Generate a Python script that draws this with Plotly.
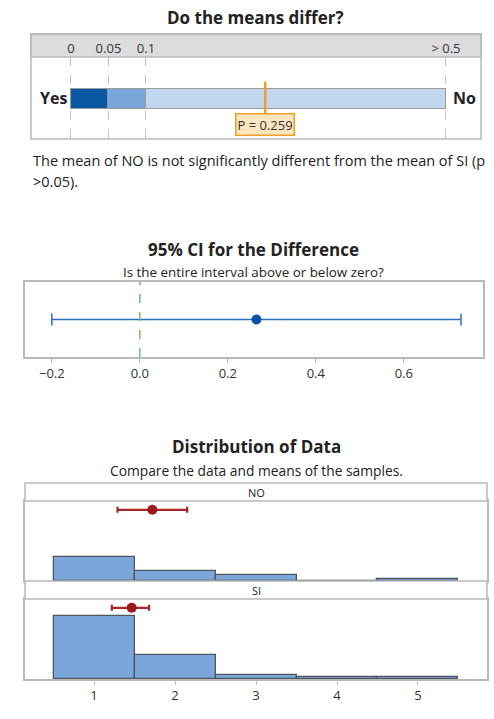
import plotly.graph_objects as go

# ---- data ----
p_value = 0.259
p_thresholds = [0, 0.05, 0.1, 0.5]
p_tick_labels = ["0", "0.05", "0.1", "> 0.5"]

diff_estimate = 0.265
diff_ci = [-0.2, 0.73]
diff_ticks = [-0.2, 0.0, 0.2, 0.4, 0.6]

groups = ["NO", "SI"]
bins = [1, 2, 3, 4, 5]
counts_no = [12, 5, 3, 0, 1]
counts_si = [32, 12, 2, 1, 1]
group_means = [1.72, 1.465]
group_ci_low = [1.29, 1.22]
group_ci_high = [2.15, 1.68]

W, H = 494, 719
FONT = "Open Sans"
TXT = "#222222"
BORDER = "#b9b9b9"


def fx(px):
    return px / W


def fy(py):
    return 1 - py / H


def p_scale(p):
    # piecewise scale: 0..0.1 stretched, 0.1..0.5 compressed
    if p <= 0.1:
        return p / 0.1
    return 1 + (min(p, 0.5) - 0.1) / 0.4 * 4


fig = go.Figure()

# ---- p-value bar ----
seg_colors = ["#0b57a4", "#7aa7da", "#c2d6ee"]
for i in range(3):
    a, b = p_thresholds[i], p_thresholds[i + 1]
    fig.add_trace(go.Bar(
        orientation="h", y=[0.488], base=[p_scale(a)], x=[p_scale(b) - p_scale(a)],
        width=0.244, marker=dict(color=seg_colors[i], line=dict(color="#9a9a9a", width=1)),
        xaxis="x", yaxis="y", showlegend=False, hoverinfo="skip"))
fig.add_trace(go.Scatter(
    x=[p_scale(p_value)] * 2, y=[0.70, 0.28], mode="lines",
    line=dict(color="#f0a028", width=2.5), xaxis="x", yaxis="y",
    showlegend=False, hoverinfo="skip"))

# ---- CI for the difference ----
fig.add_trace(go.Scatter(
    x=[diff_estimate], y=[0.5], mode="markers",
    marker=dict(color="#0b52a6", size=10),
    error_x=dict(type="data", symmetric=False,
                 array=[diff_ci[1] - diff_estimate],
                 arrayminus=[diff_estimate - diff_ci[0]],
                 color="#2f6fc0", thickness=1.5, width=6),
    xaxis="x2", yaxis="y2", showlegend=False))
fig.add_trace(go.Scatter(
    x=[0, 0], y=[0, 1], mode="lines", line=dict(color="#6cc070", width=1.5, dash="dash"),
    xaxis="x2", yaxis="y2", showlegend=False, hoverinfo="skip"))

# ---- distributions ----
y_top = 1.27 * max(max(counts_no), max(counts_si))
for k, counts in enumerate([counts_no, counts_si]):
    xa, ya = ("x3", "y3") if k == 0 else ("x4", "y4")
    fig.add_trace(go.Bar(
        x=bins, y=counts, width=1,
        marker=dict(color="#7ba6d9", line=dict(color="#50565e", width=1.3)),
        xaxis=xa, yaxis=ya, showlegend=False))
    fig.add_trace(go.Scatter(
        x=[group_means[k]], y=[0.89 * y_top], mode="markers",
        marker=dict(color="#9b1b1b", size=10),
        error_x=dict(type="data", symmetric=False,
                     array=[group_ci_high[k] - group_means[k]],
                     arrayminus=[group_means[k] - group_ci_low[k]],
                     color="#a52626", thickness=2.2, width=3),
        xaxis=xa, yaxis=ya, showlegend=False))

axis_box = dict(showline=True, mirror=True, linecolor=BORDER, linewidth=1.5,
                zeroline=False, showgrid=False)

fig.update_layout(
    width=W, height=H, margin=dict(l=0, r=0, t=0, b=0),
    paper_bgcolor="white", plot_bgcolor="white",
    font=dict(family=FONT, color=TXT, size=12),
    barmode="overlay", bargap=0,
    xaxis=dict(domain=[fx(31), fx(481)], range=[-0.533, 5.467], side="top",
               tickvals=[p_scale(v) for v in p_thresholds], ticktext=p_tick_labels,
               showgrid=True, gridcolor="#c4c4c4", griddash="dash", gridwidth=1,
               zeroline=False, showline=False, ticks="", tickfont=dict(size=13, color="#333"),
               fixedrange=True),
    yaxis=dict(domain=[fy(139), fy(57)], range=[0, 1], visible=False, fixedrange=True),
    xaxis2=dict(domain=[fx(25), fx(483)], range=[-0.261, 0.78], tickvals=diff_ticks,
                tickformat=".1f", ticks="outside", ticklen=4, tickcolor=BORDER,
                tickfont=dict(size=13, color="#333"), anchor="y2", **axis_box),
    yaxis2=dict(domain=[fy(357), fy(282)], range=[0, 1], showticklabels=False,
                ticks="", anchor="x2", **axis_box),
    xaxis3=dict(domain=[fx(25), fx(487)], range=[0.148, 5.852], showticklabels=False,
                ticks="", anchor="y3", **axis_box),
    yaxis3=dict(domain=[fy(581), fy(501)], range=[0, y_top], showticklabels=False,
                ticks="", anchor="x3", **axis_box),
    xaxis4=dict(domain=[fx(25), fx(487)], range=[0.148, 5.852], tickvals=bins,
                ticks="outside", ticklen=4, tickcolor=BORDER,
                tickfont=dict(size=13, color="#333"), anchor="y4", **axis_box),
    yaxis4=dict(domain=[fy(679), fy(599)], range=[0, y_top], showticklabels=False,
                ticks="", anchor="x4", **axis_box),
)

shapes = [
    # header band and frame of the p-value panel
    dict(type="rect", xref="paper", yref="paper", x0=fx(31), x1=fx(481), y0=fy(57), y1=fy(34),
         fillcolor="#dcdcdc", line=dict(color=BORDER, width=1.5), layer="below"),
    dict(type="rect", xref="paper", yref="paper", x0=fx(31), x1=fx(481), y0=fy(139), y1=fy(34),
         fillcolor="rgba(0,0,0,0)", line=dict(color=BORDER, width=1.5)),
    # facet strips
    dict(type="rect", xref="paper", yref="paper", x0=fx(25), x1=fx(487), y0=fy(501), y1=fy(483),
         fillcolor="white", line=dict(color=BORDER, width=1.5)),
    dict(type="rect", xref="paper", yref="paper", x0=fx(25), x1=fx(487), y0=fy(599), y1=fy(581),
         fillcolor="white", line=dict(color=BORDER, width=1.5)),
]
fig.update_layout(shapes=shapes)

ann = []


def text(x, y, s, size, bold=False, xanchor="center", color=TXT):
    ann.append(dict(xref="paper", yref="paper", x=fx(x), y=fy(y), text=f"<b>{s}</b>" if bold else s,
                    showarrow=False, xanchor=xanchor, yanchor="middle",
                    font=dict(size=size, color=color, family=FONT)))


text(255, 18, "Do the means differ?", 17, bold=True)
text(53, 98, "Yes", 16, bold=True)
text(464, 98, "No", 16, bold=True)
ann.append(dict(xref="x", yref="y", x=p_scale(p_value), y=0.177,
                text=f"P = {p_value:.3f}", showarrow=False,
                font=dict(size=13, color="#333", family=FONT),
                bgcolor="#fce6bf", bordercolor="#f0a028", borderwidth=1.5, borderpad=1))
text(31, 160, "The mean of NO is not significantly different from the mean of SI (p", 14.5,
     xanchor="left")
text(31, 182, ">0.05).", 14.5, xanchor="left")

text(254, 249, "95% CI for the Difference", 17, bold=True)
text(254, 272, "Is the entire interval above or below zero?", 13.4)

text(256, 446, "Distribution of Data", 17, bold=True)
text(256, 470, "Compare the data and means of the samples.", 13.8)
text(256, 492, groups[0], 11)
text(256, 590, groups[1], 11)

fig.update_layout(annotations=ann)

fig.write_html("out.html")
